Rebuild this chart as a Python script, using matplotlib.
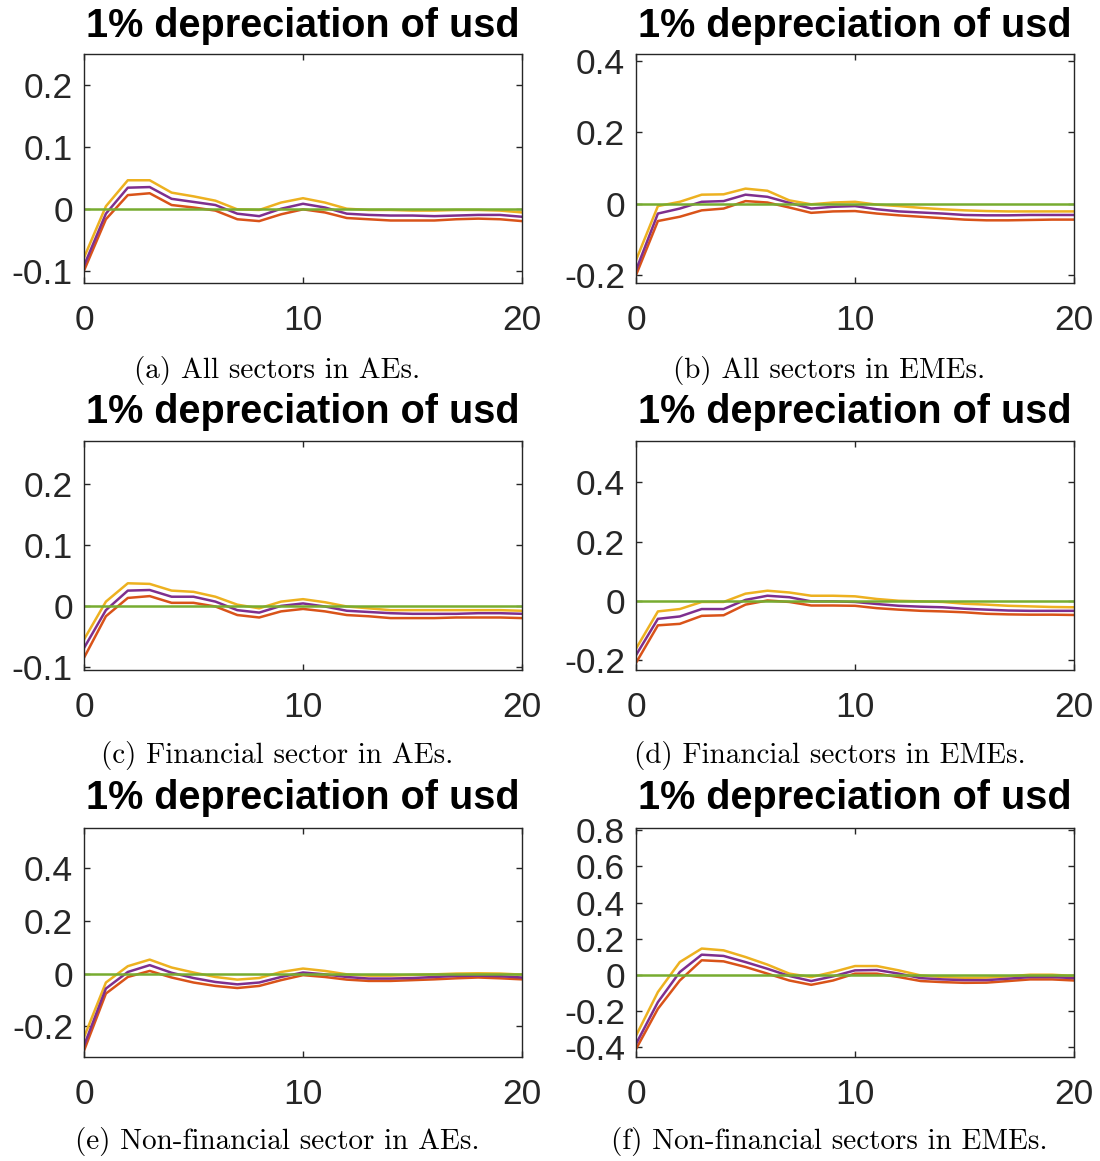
import numpy as np
import matplotlib
matplotlib.use('Agg')
import matplotlib.pyplot as plt

plt.rcParams['axes.unicode_minus'] = False

# horizon
steps = np.arange(21)

# panel (a) all sectors, AEs
a_upper = [-0.079, 0.004, 0.046, 0.046, 0.026, 0.020, 0.013, -0.001, -0.002, 0.010, 0.017,
           0.010, 0.000, -0.002, -0.002, -0.003, -0.003, -0.002, -0.002, -0.003, -0.006]
a_mid = [-0.092, -0.008, 0.034, 0.035, 0.016, 0.011, 0.006, -0.008, -0.012, 0.000, 0.008,
         0.002, -0.008, -0.010, -0.011, -0.011, -0.012, -0.011, -0.010, -0.010, -0.013]
a_lower = [-0.100, -0.017, 0.022, 0.025, 0.006, 0.002, -0.003, -0.017, -0.020, -0.009, -0.001,
           -0.006, -0.015, -0.017, -0.019, -0.019, -0.019, -0.017, -0.016, -0.017, -0.020]

# panel (b) all sectors, EMEs
b_upper = [-0.159, -0.007, 0.005, 0.025, 0.026, 0.042, 0.036, 0.009, -0.002, 0.003, 0.005,
           -0.003, -0.007, -0.012, -0.016, -0.019, -0.021, -0.022, -0.022, -0.022, -0.022]
b_mid = [-0.187, -0.028, -0.014, 0.005, 0.007, 0.025, 0.019, 0.002, -0.014, -0.009, -0.007,
         -0.016, -0.022, -0.025, -0.028, -0.032, -0.033, -0.033, -0.032, -0.032, -0.032]
b_lower = [-0.201, -0.049, -0.037, -0.019, -0.014, 0.007, 0.003, -0.011, -0.026, -0.022, -0.021,
           -0.028, -0.033, -0.037, -0.041, -0.045, -0.047, -0.047, -0.046, -0.045, -0.045]

# panel (c) financial sector, AEs
c_upper = [-0.055, 0.007, 0.037, 0.036, 0.025, 0.023, 0.015, 0.002, -0.004, 0.007, 0.011,
           0.006, -0.001, -0.004, -0.007, -0.007, -0.007, -0.007, -0.007, -0.007, -0.008]
c_mid = [-0.069, -0.007, 0.025, 0.026, 0.015, 0.015, 0.007, -0.007, -0.011, 0.000, 0.004,
         -0.001, -0.008, -0.010, -0.012, -0.013, -0.013, -0.013, -0.012, -0.012, -0.013]
c_lower = [-0.085, -0.017, 0.013, 0.016, 0.005, 0.005, -0.001, -0.015, -0.019, -0.009, -0.005,
           -0.009, -0.015, -0.017, -0.020, -0.020, -0.020, -0.019, -0.019, -0.019, -0.020]

# panel (d) financial sectors, EMEs
d_upper = [-0.162, -0.036, -0.028, -0.004, -0.004, 0.024, 0.034, 0.028, 0.017, 0.017, 0.015,
           0.006, 0.000, -0.002, -0.004, -0.010, -0.013, -0.017, -0.019, -0.021, -0.022]
d_mid = [-0.184, -0.061, -0.053, -0.028, -0.028, 0.003, 0.017, 0.012, -0.002, -0.002, -0.004,
         -0.011, -0.017, -0.020, -0.022, -0.027, -0.030, -0.033, -0.034, -0.034, -0.034]
d_lower = [-0.210, -0.083, -0.078, -0.051, -0.049, -0.013, 0.001, -0.004, -0.016, -0.016, -0.017,
           -0.025, -0.030, -0.034, -0.036, -0.039, -0.044, -0.046, -0.047, -0.047, -0.048]

# panel (e) non-financial sector, AEs
e_upper = [-0.242, -0.034, 0.028, 0.053, 0.023, 0.004, -0.013, -0.023, -0.017, 0.006, 0.019,
           0.010, -0.003, -0.008, -0.008, -0.005, -0.003, 0.000, 0.001, 0.000, -0.004]
e_mid = [-0.274, -0.057, 0.006, 0.032, 0.003, -0.017, -0.032, -0.041, -0.034, -0.013, 0.004,
         -0.003, -0.013, -0.019, -0.019, -0.017, -0.013, -0.009, -0.008, -0.010, -0.015]
e_lower = [-0.293, -0.076, -0.013, 0.010, -0.015, -0.034, -0.047, -0.055, -0.047, -0.025, -0.006,
           -0.013, -0.023, -0.028, -0.028, -0.025, -0.022, -0.018, -0.015, -0.018, -0.022]

# panel (f) non-financial sectors, EMEs
f_upper = [-0.338, -0.096, 0.070, 0.145, 0.135, 0.098, 0.056, 0.006, -0.013, 0.015, 0.048,
           0.048, 0.024, -0.004, -0.013, -0.017, -0.016, -0.009, 0.000, 0.000, -0.007]
f_mid = [-0.384, -0.152, 0.015, 0.111, 0.104, 0.070, 0.033, -0.007, -0.035, -0.009, 0.024,
         0.026, 0.006, -0.019, -0.026, -0.030, -0.030, -0.022, -0.013, -0.013, -0.019]
f_lower = [-0.412, -0.189, -0.032, 0.080, 0.074, 0.043, 0.006, -0.032, -0.056, -0.032, 0.006,
           0.006, -0.013, -0.035, -0.041, -0.045, -0.044, -0.035, -0.026, -0.026, -0.032]

captions = ['(a) All sectors in AEs.', '(b) All sectors in EMEs.',
            '(c) Financial sector in AEs.', '(d) Financial sectors in EMEs.',
            '(e) Non-financial sector in AEs.', '(f) Non-financial sectors in EMEs.']
title = '1% depreciation of usd'

ylims = [(-0.12, 0.25), (-0.223, 0.42), (-0.105, 0.27),
         (-0.234, 0.54), (-0.317, 0.553), (-0.456, 0.813)]
yticks = [[-0.1, 0, 0.1, 0.2], [-0.2, 0, 0.2, 0.4], [-0.1, 0, 0.1, 0.2],
          [-0.2, 0, 0.2, 0.4], [-0.2, 0, 0.2, 0.4], [-0.4, -0.2, 0, 0.2, 0.4, 0.6, 0.8]]
ytick_labels = [['-0.1', '0', '0.1', '0.2'], ['-0.2', '0', '0.2', '0.4'],
                ['-0.1', '0', '0.1', '0.2'], ['-0.2', '0', '0.2', '0.4'],
                ['-0.2', '0', '0.2', '0.4'],
                ['-0.4', '-0.2', '0', '0.2', '0.4', '0.6', '0.8']]
xticks = [0, 10, 20]

panels = [(a_upper, a_mid, a_lower), (b_upper, b_mid, b_lower),
          (c_upper, c_mid, c_lower), (d_upper, d_mid, d_lower),
          (e_upper, e_mid, e_lower), (f_upper, f_mid, f_lower)]

# MATLAB default colours
c_yel = (0.929, 0.694, 0.125)
c_ora = (0.850, 0.325, 0.098)
c_pur = (0.494, 0.184, 0.556)
c_grn = (0.466, 0.674, 0.188)
c_ax = (0.15, 0.15, 0.15)

W, H = 1100, 1161
fig = plt.figure(figsize=(W / 100, H / 100), dpi=100)

col_left = [84, 636]
row_top = [54, 441, 828]
ax_w, ax_h = 438, 229
title_y = [26, 412, 798]
cap_x = [277, 829.5]
cap_y = [370, 756, 1142]

for i, (up, mid, lo) in enumerate(panels):
    r, c = divmod(i, 2)
    ax = fig.add_axes([col_left[c] / W, 1 - (row_top[r] + ax_h) / H, ax_w / W, ax_h / H])
    ax.plot(steps, up, color=c_yel, lw=1.8)
    ax.plot(steps, lo, color=c_ora, lw=1.8)
    ax.plot(steps, mid, color=c_pur, lw=1.8)
    ax.plot(steps, np.zeros(len(steps)), color=c_grn, lw=1.8)
    ax.set_xlim(0, 20)
    ax.set_ylim(*ylims[i])
    ax.set_xticks(xticks)
    ax.set_xticklabels([str(t) for t in xticks])
    ax.set_yticks(yticks[i])
    ax.set_yticklabels(ytick_labels[i])
    ax.tick_params(direction='in', length=4, width=1, colors=c_ax, labelsize=25.5,
                   top=True, right=True, pad=8)
    ax.tick_params(axis='x', pad=15)
    for lab in ax.get_xticklabels() + ax.get_yticklabels():
        lab.set_fontfamily('Liberation Sans')
        lab.set_color(c_ax)
    for s in ax.spines.values():
        s.set_color(c_ax)
        s.set_linewidth(1)

    fig.text((col_left[c] + ax_w / 2) / W, 1 - title_y[r] / H, title,
             ha='center', va='center', fontsize=28.5, fontweight='bold',
             family='Liberation Sans', color='black')
    fig.text(cap_x[c] / W, 1 - cap_y[r] / H, captions[i],
             ha='center', va='center', fontsize=21, family='cmr10', color='black')

plt.savefig('out.png', dpi=100)
